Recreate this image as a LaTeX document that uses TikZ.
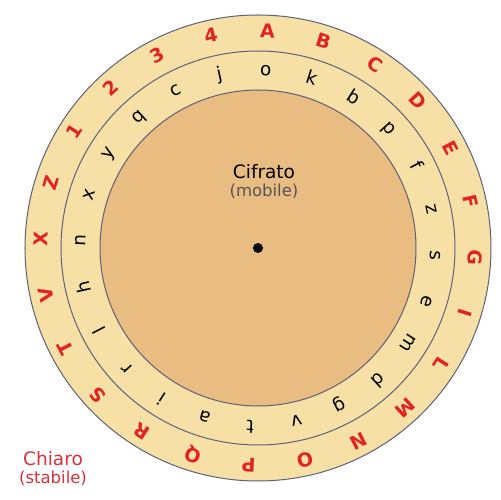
\documentclass[tikz,border=0pt]{standalone}
\usepackage{fontspec}
\setmainfont{DejaVu Sans}
\usepackage{xcolor}
\usetikzlibrary{positioning}
\definecolor{ringfill}{HTML}{F6E0A6}
\definecolor{discfill}{HTML}{E9BD82}
\definecolor{rimline}{HTML}{5E607A}
\definecolor{plainred}{HTML}{E32222}
\definecolor{labelred}{HTML}{D9303A}
\definecolor{softgray}{HTML}{555555}

\begin{document}
\begin{tikzpicture}[x=1pt,y=1pt,
  rim/.style={draw=rimline,line width=1pt},
  outerletter/.style={font=\fontsize{19}{19}\selectfont\bfseries,text=plainred,text height=0.75em,text depth=0.05em,inner sep=0pt},
  innerletter/.style={font=\fontsize{18.5}{18.5}\selectfont,text=black,text height=0.75em,text depth=0.2em,inner sep=0pt},
  title/.style={font=\fontsize{18.5}{18.5}\selectfont,inner sep=0pt},
  subtitle/.style={font=\fontsize{16.5}{16.5}\selectfont,inner sep=0pt}
]
\useasboundingbox (-258,-252) rectangle (243,248);

% disks
\draw[rim,fill=ringfill] (0,0) circle (233);
\draw[rim,fill=ringfill] (0,0) circle (197);
\draw[rim,fill=discfill] (0,0) circle (158);
\fill (0,0) circle (5);
\coordinate (hub) at (0,0);

% fixed ring
\foreach \ch [count=\i from 0] in {A,B,C,D,E,F,G,I,L,M,N,O,P,Q,R,S,T,V,X,Z,1,2,3,4}
  \node[outerletter,rotate=-2.5-15*\i] (plain\i) at ({87.5-15*\i}:214) {\ch};

% moving ring
\foreach \ch [count=\i from 0] in {o,k,b,p,f,z,s,e,m,d,g,v,t,a,i,r,l,h,n,x,y,q,c,j}
  \node[innerletter,rotate=-2.5-15*\i] (cipher\i) at ({87.5-15*\i}:175) {\ch};

\node[title] (cifrato) at (6,76) {Cifrato};
\node[subtitle,text=softgray,below=4pt of cifrato] (mobile) {(mobile)};

\node[title,text=labelred] (chiaro) at (-205,-211) {Chiaro};
\node[subtitle,text=labelred,below=4pt of chiaro] (stabile) {(stabile)};
\end{tikzpicture}
\end{document}
